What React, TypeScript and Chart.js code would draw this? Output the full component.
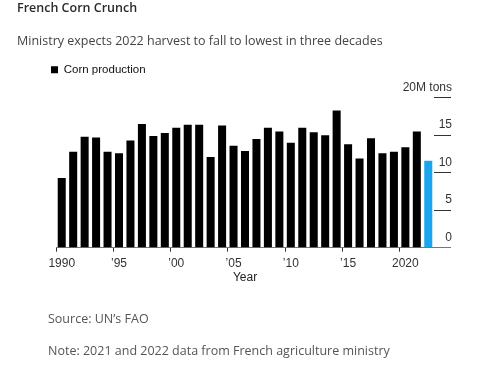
import React, { useEffect, useRef } from 'react';
import { Chart, registerables } from 'chart.js';

Chart.register(...registerables);

const years = ['1990','1991','1992','1993','1994','1995','1996','1997','1998','1999','2000','2001','2002','2003','2004','2005','2006','2007','2008','2009','2010','2011','2012','2013','2014','2015','2016','2017','2018','2019','2020','2021','2022'];
const production = [9.3, 12.8, 14.8, 14.7, 12.8, 12.6, 14.3, 16.5, 14.9, 15.3, 16.0, 16.4, 16.4, 12.1, 16.3, 13.6, 12.9, 14.5, 16.0, 15.5, 14.0, 16.0, 15.4, 15.0, 18.3, 13.8, 11.9, 14.6, 12.6, 12.8, 13.4, 15.5, 11.6];
const xTickYears = ['1990', '1995', '2000', '2005', '2010', '2015', '2020'];
const xTickLabels = ['1990', '\u201995', '\u201900', '\u201905', '\u201910', '\u201915', '2020'];
const yMax = 20;
const yStep = 5;
const yTopLabel = '20M tons';
const seriesName = 'Corn production';
const highlightYear = '2022';

const titleText = 'French Corn Crunch';
const subtitleText = 'Ministry expects 2022 harvest to fall to lowest in three decades';
const sourceText = 'Source: UN\u2019s FAO';
const noteText = 'Note: 2021 and 2022 data from French agriculture ministry';

const BLACK = '#000000';
const BLUE = '#1aa6ef';
const FONT = "'Liberation Sans', Arial, sans-serif";

export default function App() {
  const canvasRef = useRef<HTMLCanvasElement | null>(null);

  useEffect(() => {
    const canvas = canvasRef.current;
    if (!canvas) return;
    const chart = new Chart(canvas, {
      type: 'bar',
      data: {
        labels: years,
        datasets: [
          {
            label: seriesName,
            data: production,
            backgroundColor: (ctx: any) =>
              ctx.dataIndex !== undefined && years[ctx.dataIndex] === highlightYear ? BLUE : BLACK,
            borderWidth: 0,
            categoryPercentage: 1,
            barPercentage: 0.7,
            xAxisID: 'x',
            yAxisID: 'y',
          },
        ],
      },
      options: {
        animation: false,
        responsive: true,
        maintainAspectRatio: false,
        layout: { padding: { top: 54, left: 41, right: 45, bottom: 80.7 } },
        plugins: {
          legend: {
            display: true,
            position: 'top',
            align: 'start',
            labels: {
              boxWidth: 7,
              boxHeight: 7,
              padding: 10,
              color: '#111',
              font: { family: FONT, size: 11.5 },
            },
          },
          tooltip: { enabled: false },
          title: { display: false },
        },
        scales: {
          padLeft: {
            type: 'linear',
            position: 'left',
            display: true,
            grid: { display: false },
            border: { display: false },
            ticks: { display: false },
            afterFit: (s: any) => {
              s.width = 15;
            },
          },
          padTop: {
            type: 'linear',
            position: 'top',
            display: true,
            grid: { display: false },
            border: { display: false },
            ticks: { display: false },
            afterFit: (s: any) => {
              s.height = 12.2;
            },
          },
          x: {
            type: 'category',
            offset: true,
            grid: {
              display: true,
              drawOnChartArea: false,
              drawTicks: true,
              tickLength: 4,
              tickColor: (ctx: any) =>
                xTickYears.includes(years[ctx.index]) ? '#333' : 'rgba(0,0,0,0)',
            },
            border: { display: true, color: '#777', width: 1 },
            ticks: {
              autoSkip: false,
              maxRotation: 0,
              padding: 4.9,
              color: '#333',
              font: { family: FONT, size: 12 },
              callback: (_v: any, i: number) => {
                const k = xTickYears.indexOf(years[i]);
                return k >= 0 ? xTickLabels[k] : '';
              },
            },
            title: {
              display: true,
              text: 'Year',
              color: '#222',
              font: { family: FONT, size: 12 },
              padding: { top: -5, bottom: 0 },
            },
          },
          y: {
            type: 'linear',
            position: 'right',
            min: 0,
            max: yMax,
            grid: {
              display: true,
              drawOnChartArea: false,
              drawTicks: true,
              tickLength: 17,
              tickColor: (ctx: any) => (ctx.tick && ctx.tick.value === 0 ? '#777' : '#333'),
            },
            border: { display: false },
            ticks: {
              stepSize: yStep,
              mirror: true,
              crossAlign: 'near',
              labelOffset: -10.5,
              padding: 18,
              color: '#333',
              font: { family: FONT, size: 12 },
              callback: (v: any) => (v === yMax ? yTopLabel : String(v)),
            },
            afterFit: (s: any) => {
              s.width = 18;
            },
          },
        },
      },
    } as any);
    return () => chart.destroy();
  }, []);

  const textBase: React.CSSProperties = {
    position: 'absolute',
    left: 17,
    whiteSpace: 'nowrap',
    fontFamily: "'Open Sans', sans-serif",
    lineHeight: '18px',
    margin: 0,
  };

  return (
    <div style={{ position: 'fixed', left: 0, top: 0, width: 497, height: 366, background: '#fff', overflow: 'hidden' }}>
      <div style={{ position: 'absolute', left: 0, top: 0, width: 497, height: 366 }}>
        <canvas ref={canvasRef} />
      </div>
      <div style={{ ...textBase, top: -1.15, fontSize: 12.5, fontWeight: 600, color: '#2a2a2a' }}>{titleText}</div>
      <div style={{ ...textBase, top: 31.85, fontSize: 12.5, color: '#444' }}>{subtitleText}</div>
      <div style={{ ...textBase, left: 48, top: 310.45, fontSize: 12.5, color: '#555' }}>{sourceText}</div>
      <div style={{ ...textBase, left: 48, top: 341.85, fontSize: 12.5, color: '#555' }}>{noteText}</div>
    </div>
  );
}
